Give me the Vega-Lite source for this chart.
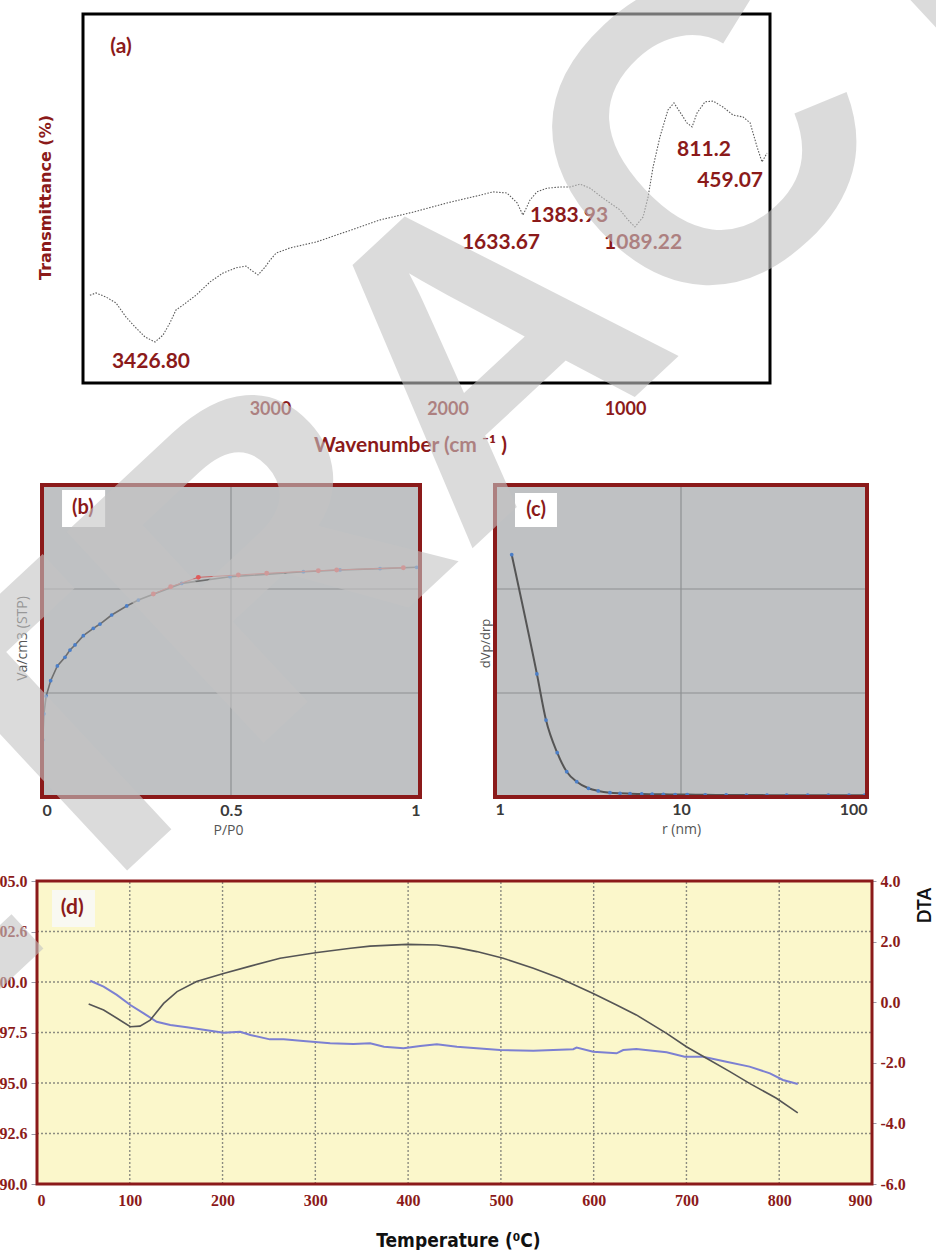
{
  "$schema": "https://vega.github.io/schema/vega-lite/v6.json",
  "width": 936,
  "height": 1250,
  "autosize": {"type": "none"},
  "padding": 0,
  "background": "white",
  "config": {"view": {"stroke": null}, "axis": {"grid": false, "domain": false, "ticks": false, "tickSize": 0}},
  "resolve": {"scale": {"x": "independent", "y": "independent"}, "axis": {"x": "independent", "y": "independent"}},
  "layer": [
    {
      "layer": [
        {
          "data": {"values": [{"x0": 4054, "x1": 183, "y0": 0, "y1": 100}]},
          "mark": {"type": "rect", "fill": "white", "stroke": "#000000", "strokeWidth": 3},
          "encoding": {
            "x": {"field": "x0", "type": "quantitative",
              "scale": {"domain": [4054, 183], "range": [83, 770], "nice": false, "zero": false},
              "axis": {"orient": "bottom", "offset": -867, "values": [1000, 2000, 3000], "format": "d",
                "labelFont": "Lato", "labelFontWeight": "bold", "labelFontSize": 18, "labelColor": "#8B1A1A", "labelPadding": 17,
                "title": "Wavenumber (cm ⁻¹ )", "titleFont": "Lato", "titleFontSize": 21, "titleFontWeight": "bold", "titleColor": "#8B1A1A",
                "titleX": 410, "titleY": 62, "titleBaseline": "middle"}},
            "x2": {"field": "x1"},
            "y": {"field": "y0", "type": "quantitative",
              "scale": {"domain": [0, 100], "range": [383, 14], "nice": false, "zero": false},
              "axis": {"orient": "left", "offset": -83, "labels": false,
                "title": "Transmittance (%)", "titleFont": "DejaVu Sans", "titleFontSize": 16, "titleFontWeight": "bold", "titleColor": "#8B1A1A",
                "titleX": -38, "titleY": 197, "titleBaseline": "middle"}},
            "y2": {"field": "y1"}
          }
        },
        {
          "data": {"values": [
            {"wn": 4015, "T": 23.8}, {"wn": 3981, "T": 24.4}, {"wn": 3924, "T": 23.3}, {"wn": 3868, "T": 21.7},
            {"wn": 3812, "T": 17.9}, {"wn": 3761, "T": 15.2}, {"wn": 3705, "T": 12.5}, {"wn": 3648, "T": 11.1},
            {"wn": 3603, "T": 13.0}, {"wn": 3564, "T": 16.3}, {"wn": 3530, "T": 19.8}, {"wn": 3491, "T": 21.1},
            {"wn": 3417, "T": 23.8}, {"wn": 3338, "T": 27.4}, {"wn": 3265, "T": 29.8}, {"wn": 3192, "T": 31.2},
            {"wn": 3136, "T": 31.7}, {"wn": 3107, "T": 30.6}, {"wn": 3068, "T": 29.3}, {"wn": 3028, "T": 31.4},
            {"wn": 3000, "T": 33.3}, {"wn": 2966, "T": 35.2}, {"wn": 2888, "T": 36.6}, {"wn": 2741, "T": 38.2},
            {"wn": 2589, "T": 40.7}, {"wn": 2380, "T": 44.2}, {"wn": 2194, "T": 46.3}, {"wn": 2003, "T": 48.8},
            {"wn": 1817, "T": 50.9}, {"wn": 1744, "T": 51.8}, {"wn": 1665, "T": 51.5}, {"wn": 1608, "T": 48.8},
            {"wn": 1575, "T": 45.5}, {"wn": 1535, "T": 49.6}, {"wn": 1496, "T": 51.8}, {"wn": 1439, "T": 52.8},
            {"wn": 1366, "T": 53.1}, {"wn": 1310, "T": 53.1}, {"wn": 1253, "T": 53.9}, {"wn": 1197, "T": 52.8},
            {"wn": 1124, "T": 50.1}, {"wn": 1028, "T": 46.9}, {"wn": 983, "T": 44.2}, {"wn": 944, "T": 42.3},
            {"wn": 898, "T": 45.0}, {"wn": 870, "T": 50.4}, {"wn": 842, "T": 58.5}, {"wn": 803, "T": 66.7},
            {"wn": 758, "T": 74.0}, {"wn": 724, "T": 75.9}, {"wn": 690, "T": 73.4}, {"wn": 651, "T": 70.5},
            {"wn": 622, "T": 69.4}, {"wn": 594, "T": 73.2}, {"wn": 549, "T": 76.2}, {"wn": 504, "T": 76.4},
            {"wn": 448, "T": 74.8}, {"wn": 391, "T": 72.6}, {"wn": 335, "T": 72.1}, {"wn": 295, "T": 70.5},
            {"wn": 256, "T": 64.0}, {"wn": 228, "T": 59.9}, {"wn": 200, "T": 62.3}
          ]},
          "mark": {"type": "line", "stroke": "#5A5A5A", "strokeWidth": 1.1, "strokeDash": [1.5, 1.5]},
          "encoding": {
            "x": {"field": "wn", "type": "quantitative"},
            "y": {"field": "T", "type": "quantitative"}
          }
        },
        {
          "data": {"values": [
            {"wn": 3671, "T": 5.7, "label": "3426.80"},
            {"wn": 1699, "T": 37.9, "label": "1633.67"},
            {"wn": 1315, "T": 45.3, "label": "1383.93"},
            {"wn": 898, "T": 37.9, "label": "1089.22"},
            {"wn": 555, "T": 63.1, "label": "811.2"},
            {"wn": 408, "T": 54.7, "label": "459.07"},
            {"wn": 3840, "T": 91.1, "label": "(a)"}
          ]},
          "mark": {"type": "text", "font": "Lato", "fontWeight": "bold", "fontSize": 21, "fill": "#8B1A1A", "align": "center", "baseline": "middle"},
          "encoding": {
            "x": {"field": "wn", "type": "quantitative"},
            "y": {"field": "T", "type": "quantitative"},
            "text": {"field": "label"}
          }
        }
      ]
    },
    {
      "layer": [
        {
          "data": {"values": [{"x0": 0, "x1": 1, "y0": 0, "y1": 300}]},
          "mark": {"type": "rect", "fill": "#BFC1C3"},
          "encoding": {
            "x": {"field": "x0", "type": "quantitative",
              "scale": {"domain": [0, 1], "range": [42, 420], "nice": false, "zero": false},
              "axis": {"orient": "bottom", "offset": -453, "values": [0, 0.5, 1], "format": ".1~f", "labelFlush": true,
                "labelFont": "Lato", "labelFontWeight": "bold", "labelFontSize": 16, "labelColor": "#3A3A3A", "labelPadding": 5,
                "title": "P/P0", "titleFont": "Open Sans", "titleFontSize": 14, "titleFontWeight": "normal", "titleColor": "#555555",
                "titleX": 228, "titleY": 33, "titleBaseline": "middle"}},
            "x2": {"field": "x1"},
            "y": {"field": "y0", "type": "quantitative",
              "scale": {"domain": [0, 300], "range": [797, 485], "nice": false, "zero": false},
              "axis": {"orient": "left", "offset": -42, "labels": false,
                "title": "Va/cm3 (STP)", "titleFont": "Open Sans", "titleFontSize": 14, "titleFontWeight": "normal", "titleColor": "#555555",
                "titleX": -20, "titleY": 638, "titleBaseline": "middle"}},
            "y2": {"field": "y1"}
          }
        },
        {
          "data": {"values": [{"g": 100}, {"g": 200}]},
          "mark": {"type": "rule", "stroke": "#8E9092", "strokeWidth": 1.2},
          "encoding": {
            "x": {"datum": 0}, "x2": {"datum": 1},
            "y": {"field": "g", "type": "quantitative"}
          }
        },
        {
          "data": {"values": [{"v": 0.5}]},
          "mark": {"type": "rule", "stroke": "#8E9092", "strokeWidth": 1.2},
          "encoding": {
            "x": {"field": "v", "type": "quantitative"},
            "y": {"datum": 0}, "y2": {"datum": 300}
          }
        },
        {
          "data": {"values": [{"x0": 0.053, "x1": 0.167, "y0": 259.6, "y1": 295.2, "label": "(b)", "xm": 0.108, "ym": 277.9}]},
          "layer": [
            {"mark": {"type": "rect", "fill": "#FFFFFF"},
             "encoding": {"x": {"field": "x0", "type": "quantitative"}, "x2": {"field": "x1"}, "y": {"field": "y0", "type": "quantitative"}, "y2": {"field": "y1"}}},
            {"mark": {"type": "text", "font": "Lato", "fontWeight": "bold", "fontSize": 20, "fill": "#8B1A1A", "align": "center", "baseline": "middle"},
             "encoding": {"x": {"field": "xm", "type": "quantitative"}, "y": {"field": "ym", "type": "quantitative"}, "text": {"field": "label"}}}
          ]
        },
        {
          "data": {"values": [
            {"p": 0.002, "v": 55}, {"p": 0.005, "v": 80}, {"p": 0.011, "v": 97},
            {"p": 0.0229, "v": 111.8}, {"p": 0.0406, "v": 126.0}, {"p": 0.0608, "v": 134.3}, {"p": 0.0741, "v": 141.3},
            {"p": 0.0873, "v": 146.2}, {"p": 0.1093, "v": 155.1}, {"p": 0.1358, "v": 162.2}, {"p": 0.1534, "v": 166.3},
            {"p": 0.1843, "v": 175.0}, {"p": 0.224, "v": 183.7}, {"p": 0.2549, "v": 189.4}, {"p": 0.3695, "v": 205.4},
            {"p": 0.4974, "v": 211.8}, {"p": 0.6914, "v": 216.6}, {"p": 0.7884, "v": 218.3}, {"p": 0.8942, "v": 219.6},
            {"p": 0.9912, "v": 220.9}
          ]},
          "layer": [
            {"mark": {"type": "line", "stroke": "#6E6E6E", "strokeWidth": 1.6},
             "encoding": {"x": {"field": "p", "type": "quantitative"}, "y": {"field": "v", "type": "quantitative"}}},
            {"mark": {"type": "point", "filled": true, "fill": "#4A7EC8", "size": 14, "opacity": 1},
             "encoding": {"x": {"field": "p", "type": "quantitative"}, "y": {"field": "v", "type": "quantitative"}}}
          ]
        },
        {
          "data": {"values": [
            {"p": 0.2945, "v": 195.2}, {"p": 0.3404, "v": 202.2}, {"p": 0.4136, "v": 211.2}, {"p": 0.5194, "v": 213.5},
            {"p": 0.5944, "v": 215.1}, {"p": 0.731, "v": 217.6}, {"p": 0.7795, "v": 218.3}, {"p": 0.9559, "v": 220.5}
          ]},
          "layer": [
            {"mark": {"type": "line", "stroke": "#C86464", "strokeWidth": 1},
             "encoding": {"x": {"field": "p", "type": "quantitative"}, "y": {"field": "v", "type": "quantitative"}}},
            {"mark": {"type": "point", "filled": true, "fill": "#E05A5A", "size": 24, "opacity": 1},
             "encoding": {"x": {"field": "p", "type": "quantitative"}, "y": {"field": "v", "type": "quantitative"}}}
          ]
        },
        {
          "data": {"values": [{"x0": 0, "x1": 1, "y0": 0, "y1": 300}]},
          "mark": {"type": "rect", "fill": null, "fillOpacity": 0, "stroke": "#8B1A1A", "strokeWidth": 4},
          "encoding": {"x": {"field": "x0", "type": "quantitative"}, "x2": {"field": "x1"}, "y": {"field": "y0", "type": "quantitative"}, "y2": {"field": "y1"}}
        }
      ]
    },
    {
      "layer": [
        {
          "data": {"values": [{"x0": 1, "x1": 100, "y0": 0, "y1": 300}]},
          "mark": {"type": "rect", "fill": "#BFC1C3"},
          "encoding": {
            "x": {"field": "x0", "type": "quantitative",
              "scale": {"type": "log", "domain": [1, 100], "range": [495, 867], "nice": false},
              "axis": {"orient": "bottom", "offset": -453, "values": [1, 10, 100], "format": "d", "labelFlush": true,
                "labelFont": "Lato", "labelFontWeight": "bold", "labelFontSize": 16, "labelColor": "#3A3A3A", "labelPadding": 4,
                "title": "r (nm)", "titleFont": "Open Sans", "titleFontSize": 14, "titleFontWeight": "normal", "titleColor": "#555555",
                "titleX": 681, "titleY": 32, "titleBaseline": "middle"}},
            "x2": {"field": "x1"},
            "y": {"field": "y0", "type": "quantitative",
              "scale": {"domain": [0, 300], "range": [797, 485], "nice": false, "zero": false},
              "axis": {"orient": "left", "offset": -495, "labels": false,
                "title": "dVp/drp", "titleFont": "Open Sans", "titleFontSize": 13, "titleFontWeight": "normal", "titleColor": "#555555",
                "titleX": -10, "titleY": 643, "titleBaseline": "middle"}},
            "y2": {"field": "y1"}
          }
        },
        {
          "data": {"values": [{"g": 100}, {"g": 200}]},
          "mark": {"type": "rule", "stroke": "#8E9092", "strokeWidth": 1.2},
          "encoding": {
            "x": {"datum": 1}, "x2": {"datum": 100},
            "y": {"field": "g", "type": "quantitative"}
          }
        },
        {
          "data": {"values": [{"v": 10}]},
          "mark": {"type": "rule", "stroke": "#8E9092", "strokeWidth": 1.2},
          "encoding": {
            "x": {"field": "v", "type": "quantitative"},
            "y": {"datum": 0}, "y2": {"datum": 300}
          }
        },
        {
          "data": {"values": [{"x0": 1.281, "x1": 2.154, "y0": 259.6, "y1": 292.3, "label": "(c)", "xm": 1.662, "ym": 276}]},
          "layer": [
            {"mark": {"type": "rect", "fill": "#FFFFFF"},
             "encoding": {"x": {"field": "x0", "type": "quantitative"}, "x2": {"field": "x1"}, "y": {"field": "y0", "type": "quantitative"}, "y2": {"field": "y1"}}},
            {"mark": {"type": "text", "font": "Lato", "fontWeight": "bold", "fontSize": 20, "fill": "#8B1A1A", "align": "center", "baseline": "middle"},
             "encoding": {"x": {"field": "xm", "type": "quantitative"}, "y": {"field": "ym", "type": "quantitative"}, "text": {"field": "label"}}}
          ]
        },
        {
          "data": {"values": [
            {"r": 1.23, "v": 233}, {"r": 1.68, "v": 118.3}, {"r": 1.88, "v": 74}, {"r": 2.16, "v": 42.6},
            {"r": 2.43, "v": 24.3}, {"r": 2.75, "v": 14.7}, {"r": 3.18, "v": 8.4}, {"r": 3.59, "v": 5.8},
            {"r": 4.15, "v": 4.1}, {"r": 4.7, "v": 3.5}, {"r": 5.32, "v": 3.2}, {"r": 6.15, "v": 2.9},
            {"r": 7.0, "v": 2.7}, {"r": 8.04, "v": 2.6}, {"r": 9.3, "v": 2.4}, {"r": 10.8, "v": 2.3},
            {"r": 13.5, "v": 2.1}, {"r": 17.5, "v": 2.0}, {"r": 22.5, "v": 1.9}, {"r": 29, "v": 1.8},
            {"r": 37, "v": 1.8}, {"r": 48, "v": 1.7}, {"r": 62, "v": 1.7}, {"r": 80, "v": 1.7}, {"r": 97, "v": 1.7}
          ]},
          "layer": [
            {"mark": {"type": "line", "stroke": "#555555", "strokeWidth": 2, "interpolate": "monotone"},
             "encoding": {"x": {"field": "r", "type": "quantitative"}, "y": {"field": "v", "type": "quantitative"}}},
            {"mark": {"type": "point", "filled": true, "fill": "#4A7EC8", "size": 14, "opacity": 1},
             "encoding": {"x": {"field": "r", "type": "quantitative"}, "y": {"field": "v", "type": "quantitative"}}}
          ]
        },
        {
          "data": {"values": [{"x0": 1, "x1": 100, "y0": 0, "y1": 300}]},
          "mark": {"type": "rect", "fill": null, "fillOpacity": 0, "stroke": "#8B1A1A", "strokeWidth": 4},
          "encoding": {"x": {"field": "x0", "type": "quantitative"}, "x2": {"field": "x1"}, "y": {"field": "y0", "type": "quantitative"}, "y2": {"field": "y1"}}
        }
      ]
    },
    {
      "resolve": {"scale": {"y": "independent"}, "axis": {"y": "independent"}},
      "layer": [
        {
          "layer": [
            {
              "data": {"values": [{"x0": 0, "x1": 900, "y0": 90, "y1": 105}]},
              "mark": {"type": "rect", "fill": "#FBF7CB"},
              "encoding": {
                "x": {"field": "x0", "type": "quantitative",
                  "scale": {"domain": [0, 900], "range": [37, 872], "nice": false, "zero": false},
                  "axis": {"orient": "bottom", "offset": -66, "values": [0, 100, 200, 300, 400, 500, 600, 700, 800, 900], "format": "d",
                    "labelFont": "Liberation Sans Narrow", "labelFontWeight": "bold", "labelFontSize": 16, "labelColor": "#8B1A1A", "labelPadding": 8,
                    "title": "Temperature (⁰C)", "titleFont": "DejaVu Sans Condensed", "titleFontSize": 19, "titleFontWeight": "bold", "titleColor": "#111111",
                    "titleX": 458, "titleY": 56, "titleBaseline": "middle"}},
                "x2": {"field": "x1"},
                "y": {"field": "y0", "type": "quantitative",
                  "scale": {"domain": [90, 105], "range": [1184, 881], "nice": false, "zero": false},
                  "axis": {"orient": "left", "offset": -37, "values": [90, 92.5, 95, 97.5, 100, 102.5, 105],
                    "labelExpr": "datum.value == 102.5 ? '102.6' : datum.value == 92.5 ? '92.6' : format(datum.value, '.1f')",
                    "labelFont": "Liberation Sans Narrow", "labelFontWeight": "bold", "labelFontSize": 16, "labelColor": "#8B1A1A", "labelPadding": 4,
                    "ticks": true, "tickSize": 6, "tickColor": "#9A9AA8", "title": null}},
                "y2": {"field": "y1"}
              }
            },
            {
              "data": {"values": [{"t": 100}, {"t": 200}, {"t": 300}, {"t": 400}, {"t": 500}, {"t": 600}, {"t": 700}, {"t": 800}]},
              "mark": {"type": "rule", "stroke": "#8C8C80", "strokeWidth": 1.4, "strokeDash": [2, 2]},
              "encoding": {
                "x": {"field": "t", "type": "quantitative"},
                "y": {"datum": 90}, "y2": {"datum": 105}
              }
            },
            {
              "data": {"values": [{"g": 92.5}, {"g": 95}, {"g": 97.5}, {"g": 100}, {"g": 102.5}]},
              "mark": {"type": "rule", "stroke": "#8C8C80", "strokeWidth": 1.4, "strokeDash": [2, 2]},
              "encoding": {
                "x": {"datum": 0}, "x2": {"datum": 900},
                "y": {"field": "g", "type": "quantitative"}
              }
            },
            {
              "data": {"values": [{"x0": 16.2, "x1": 62.5, "y0": 102.72, "y1": 104.55, "label": "(d)", "xm": 38, "ym": 103.66}]},
              "layer": [
                {"mark": {"type": "rect", "fill": "#F9F9F2"},
                 "encoding": {"x": {"field": "x0", "type": "quantitative"}, "x2": {"field": "x1"}, "y": {"field": "y0", "type": "quantitative"}, "y2": {"field": "y1"}}},
                {"mark": {"type": "text", "font": "Lato", "fontWeight": "bold", "fontSize": 21, "fill": "#8B1A1A", "align": "center", "baseline": "middle"},
                 "encoding": {"x": {"field": "xm", "type": "quantitative"}, "y": {"field": "ym", "type": "quantitative"}, "text": {"field": "label"}}}
              ]
            },
            {
              "data": {"values": [
                {"t": 57.4, "tg": 100.06}, {"t": 71.8, "tg": 99.77}, {"t": 86, "tg": 99.36}, {"t": 100.6, "tg": 98.86},
                {"t": 115, "tg": 98.45}, {"t": 129, "tg": 98.03}, {"t": 143.7, "tg": 97.87}, {"t": 161.6, "tg": 97.76},
                {"t": 186.8, "tg": 97.59}, {"t": 201, "tg": 97.49}, {"t": 219, "tg": 97.54}, {"t": 230, "tg": 97.38},
                {"t": 251, "tg": 97.16}, {"t": 266, "tg": 97.16}, {"t": 287, "tg": 97.08}, {"t": 316, "tg": 96.97},
                {"t": 341, "tg": 96.93}, {"t": 359, "tg": 96.97}, {"t": 374, "tg": 96.8}, {"t": 395, "tg": 96.72},
                {"t": 413, "tg": 96.83}, {"t": 431, "tg": 96.92}, {"t": 452.6, "tg": 96.8}, {"t": 474, "tg": 96.72},
                {"t": 499, "tg": 96.63}, {"t": 535, "tg": 96.6}, {"t": 578, "tg": 96.67}, {"t": 581.6, "tg": 96.75},
                {"t": 599.5, "tg": 96.55}, {"t": 624.7, "tg": 96.47}, {"t": 631.8, "tg": 96.63}, {"t": 646, "tg": 96.68},
                {"t": 678.6, "tg": 96.52}, {"t": 698, "tg": 96.3}, {"t": 718, "tg": 96.3}, {"t": 743, "tg": 96.05},
                {"t": 768, "tg": 95.81}, {"t": 790, "tg": 95.48}, {"t": 804, "tg": 95.15}, {"t": 820, "tg": 94.95}
              ]},
              "mark": {"type": "line", "stroke": "#7C80D2", "strokeWidth": 2},
              "encoding": {
                "x": {"field": "t", "type": "quantitative"},
                "y": {"field": "tg", "type": "quantitative"}
              }
            },
            {
              "data": {"values": [{"x0": 0, "x1": 900, "y0": 90, "y1": 105}]},
              "mark": {"type": "rect", "fill": null, "fillOpacity": 0, "stroke": "#8B1A1A", "strokeWidth": 3},
              "encoding": {"x": {"field": "x0", "type": "quantitative"}, "x2": {"field": "x1"}, "y": {"field": "y0", "type": "quantitative"}, "y2": {"field": "y1"}}
            }
          ]
        },
        {
          "data": {"values": [
            {"t": 55.7, "dta": -0.06}, {"t": 71.8, "dta": -0.26}, {"t": 86.2, "dta": -0.53}, {"t": 100.6, "dta": -0.81},
            {"t": 111, "dta": -0.79}, {"t": 122, "dta": -0.59}, {"t": 136.5, "dta": -0.04}, {"t": 151, "dta": 0.35},
            {"t": 172, "dta": 0.68}, {"t": 201, "dta": 0.95}, {"t": 230, "dta": 1.19}, {"t": 262, "dta": 1.45},
            {"t": 300, "dta": 1.63}, {"t": 338, "dta": 1.78}, {"t": 359, "dta": 1.85}, {"t": 399, "dta": 1.91},
            {"t": 431, "dta": 1.89}, {"t": 452.6, "dta": 1.8}, {"t": 474, "dta": 1.67}, {"t": 502.5, "dta": 1.45},
            {"t": 535, "dta": 1.12}, {"t": 563.6, "dta": 0.79}, {"t": 599.5, "dta": 0.29}, {"t": 624.7, "dta": -0.09},
            {"t": 646, "dta": -0.42}, {"t": 678.6, "dta": -1.03}, {"t": 700, "dta": -1.47}, {"t": 721.6, "dta": -1.85},
            {"t": 746.8, "dta": -2.29}, {"t": 768, "dta": -2.68}, {"t": 797, "dta": -3.17}, {"t": 820, "dta": -3.65}
          ]},
          "mark": {"type": "line", "stroke": "#555555", "strokeWidth": 1.6},
          "encoding": {
            "x": {"field": "t", "type": "quantitative"},
            "y": {"field": "dta", "type": "quantitative",
              "scale": {"domain": [-6, 4], "range": [1184, 881], "nice": false, "zero": false},
              "axis": {"orient": "right", "offset": -64, "values": [-6, -4, -2, 0, 2, 4],
                "labelExpr": "replace(format(datum.value, '.1f'), '\u2212', '-')",
                "labelFont": "Liberation Sans Narrow", "labelFontWeight": "bold", "labelFontSize": 16, "labelColor": "#8B1A1A", "labelPadding": 4,
                "ticks": true, "tickSize": 4, "tickColor": "#9A9AA8",
                "title": "DTA", "titleFont": "Lato", "titleFontSize": 18, "titleFontWeight": "bold", "titleColor": "#111111",
                "titleAngle": 270, "titleX": 53, "titleY": 905, "titleBaseline": "middle"}}
          }
        },
        {
          "data": {"values": [{"t": 488.1, "v": 130.8, "label": "RETRACTED"}]},
          "mark": {"type": "text", "font": "Liberation Sans", "fontWeight": "bold", "fontSize": 420, "fill": "#C4C4C4", "opacity": 0.6, "angle": -43, "align": "center", "baseline": "middle"},
          "encoding": {
            "x": {"field": "t", "type": "quantitative"},
            "y": {"field": "v", "type": "quantitative", "scale": {"domain": [90, 105], "range": [1184, 881], "nice": false, "zero": false}, "axis": null},
            "text": {"field": "label"}
          }
        }
      ]
    }
  ]
}
